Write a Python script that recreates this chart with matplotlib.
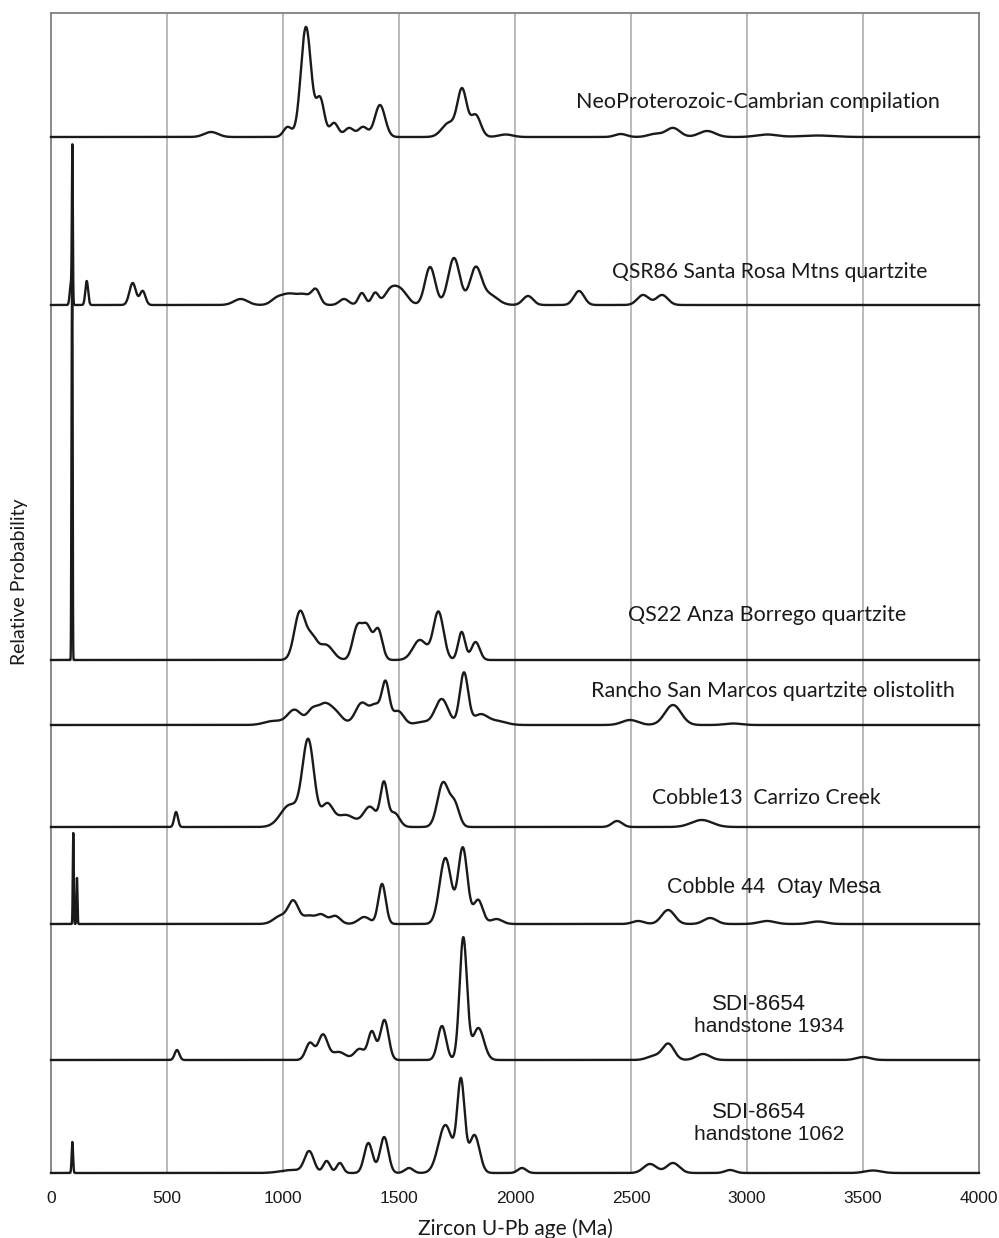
import numpy as np
import matplotlib
matplotlib.use("Agg")
import matplotlib.pyplot as plt

# ---------------- data: peak components (age Ma, relative height, width Ma) ----------------
sample_titles = [
    "NeoProterozoic-Cambrian compilation",
    "QSR86 Santa Rosa Mtns quartzite",
    "QS22 Anza Borrego quartzite",
    "Rancho San Marcos quartzite olistolith",
    "Cobble13  Carrizo Creek",
    "Cobble 44  Otay Mesa",
    "SDI-8654",
    "SDI-8654",
]
sample_subtitles = ["", "", "", "", "", "", "handstone 1934", "handstone 1062"]

neo_age = [690, 1020, 1099, 1160, 1220, 1285, 1345, 1418, 1715, 1772, 1830, 1960, 2456, 2603, 2681, 2828, 3086, 3302]
neo_h   = [5, 10, 110, 38, 14, 9, 10, 32, 14, 46, 22, 2.5, 3, 3, 9, 6, 2.5, 1.5]
neo_s   = [30, 18, 22, 18, 18, 20, 20, 22, 30, 20, 22, 30, 25, 30, 30, 35, 45, 70]

qsr_age = [86, 92, 154, 352, 395, 818, 973, 1025, 1090, 1142, 1263, 1340, 1397, 1460, 1505, 1634, 1737, 1830, 1890, 2056, 2276, 2552, 2634]
qsr_h   = [22, 150, 24, 22, 14, 6, 6, 10, 10, 14, 6, 12, 12, 12, 15, 38, 47, 36, 10, 9, 14, 10, 10]
qsr_s   = [5, 2, 6, 14, 12, 30, 25, 30, 30, 18, 20, 15, 15, 25, 30, 22, 25, 25, 35, 22, 22, 25, 25]

qs22_age = [89, 92, 1073, 1125, 1185, 1320, 1362, 1410, 1590, 1670, 1770, 1830]
qs22_h   = [250, 354, 48, 20, 15, 32, 32, 30, 20, 48, 28, 18]
qs22_s   = [1.5, 1.5, 24, 22, 30, 20, 20, 18, 30, 22, 15, 18]

rancho_age = [960, 1050, 1125, 1175, 1225, 1340, 1400, 1442, 1495, 1600, 1684, 1780, 1850, 1920, 2496, 2681, 2940]
rancho_h   = [4, 15, 13, 18, 12, 22, 18, 40, 14, 3, 26, 52, 10, 4, 5, 20, 1.5]
rancho_s   = [40, 30, 22, 28, 30, 28, 22, 16, 25, 30, 28, 18, 30, 40, 35, 35, 35]

cob13_age = [539, 1030, 1109, 1190, 1270, 1375, 1435, 1480, 1690, 1740, 2440, 2805]
cob13_h   = [15, 22, 85, 22, 12, 20, 42, 14, 44, 22, 6, 7]
cob13_s   = [8, 40, 25, 25, 40, 28, 15, 22, 24, 20, 22, 45]

cob44_age = [96, 112, 990, 1045, 1110, 1165, 1225, 1350, 1427, 1700, 1775, 1841, 1920, 2531, 2660, 2841, 3086, 3306]
cob44_h   = [91, 46, 8, 22, 8, 9, 8, 7, 40, 66, 76, 24, 5, 3, 14, 6, 3, 2.5]
cob44_s   = [2, 2, 30, 22, 25, 22, 22, 25, 16, 25, 20, 20, 25, 25, 28, 28, 35, 35]

sdi1934_age = [543, 1116, 1172, 1240, 1330, 1383, 1437, 1685, 1777, 1842, 2600, 2661, 2811, 3501]
sdi1934_h   = [10, 17, 25, 8, 11, 28, 40, 34, 122, 32, 4, 16, 6, 3]
sdi1934_s   = [10, 18, 20, 30, 22, 16, 18, 18, 16, 24, 30, 25, 30, 30]

sdi1062_age = [92, 1040, 1113, 1188, 1245, 1368, 1436, 1543, 1700, 1767, 1825, 2030, 2582, 2681, 2927, 3543]
sdi1062_h   = [31, 3, 21, 12, 10, 30, 36, 5, 48, 90, 38, 5, 9, 10, 3, 2.5]
sdi1062_s   = [3, 50, 20, 15, 14, 18, 18, 18, 30, 16, 22, 18, 28, 28, 22, 35]

xticks = [0, 500, 1000, 1500, 2000, 2500, 3000, 3500, 4000]

# ---------------- layout ----------------
components = [
    (neo_age, neo_h, neo_s),
    (qsr_age, qsr_h, qsr_s),
    (qs22_age, qs22_h, qs22_s),
    (rancho_age, rancho_h, rancho_s),
    (cob13_age, cob13_h, cob13_s),
    (cob44_age, cob44_h, cob44_s),
    (sdi1934_age, sdi1934_h, sdi1934_s),
    (sdi1062_age, sdi1062_h, sdi1062_s),
]
offsets = [1036, 868, 513, 448, 346, 249, 113, 0]
YTOP = 1160

# label positions in pixel coords of the picture (x px, y px)
title_px = [(758, 102), (770, 272), (767, 615), (773, 691), (766, 798),
            (774, 888), (759, 1004), (759, 1113)]
sub_px = [None] * 6 + [(769, 1026), (769, 1135)]
title_family = ["Lato"] * 5 + ["Liberation Sans"] * 3
title_size = [15.5, 15.2, 15.5, 15.5, 15.2, 15.5, 16, 16]

W, H = 999, 1238
fig = plt.figure(figsize=(W / 100, H / 100), dpi=100)
ax = fig.add_axes([51 / W, (H - 1173) / H, 928 / W, 1160 / H])

x = np.linspace(0, 4000, 16001)

def pdp(ages, hs, ss):
    y = np.zeros_like(x)
    for a, h, s in zip(ages, hs, ss):
        y += h * np.exp(-0.5 * ((x - a) / s) ** 2)
    return y

for (ages, hs, ss), off in zip(components, offsets):
    ax.plot(x, pdp(ages, hs, ss) + off, color="#1a1a1a", lw=1.7,
            solid_joinstyle="round", clip_on=False, zorder=3)

def px2data(px, py):
    return (px - 51) / 928 * 4000, 1173 - py

for name, (px, py), fam, fs in zip(sample_titles, title_px, title_family, title_size):
    dx, dy = px2data(px, py)
    ax.text(dx, dy, name, ha="center", va="center", fontsize=fs,
            family=fam, color="#1a1a1a", zorder=4)
for name, pos in zip(sample_subtitles, sub_px):
    if pos is None:
        continue
    dx, dy = px2data(*pos)
    ax.text(dx, dy, name, ha="center", va="center", fontsize=15,
            family="Liberation Sans", color="#1a1a1a", zorder=4)

for xv in xticks[1:-1]:
    ax.axvline(xv, color="#b4b4b4", lw=1.3, zorder=1)

ax.set_xlim(0, 4000)
ax.set_ylim(0, YTOP)
ax.set_yticks([])
ax.set_xticks(xticks)
ax.set_xticklabels([str(t) for t in xticks], family="Liberation Sans", fontsize=12.5)
ax.tick_params(axis="x", length=0, pad=13, colors="#1a1a1a")
for side in ["left", "top", "right"]:
    ax.spines[side].set_color("#808080")
    ax.spines[side].set_linewidth(1.3)
ax.spines["bottom"].set_visible(False)

ax.set_xlabel("Zircon U-Pb age (Ma)", family="Lato", fontsize=15, labelpad=9, color="#1a1a1a")
fig.text(20 / W, 1 - 582 / H, "Relative Probability", rotation=90, ha="center", va="center",
         family="Lato", fontsize=14, color="#1a1a1a")

fig.savefig("out.png", dpi=100)
